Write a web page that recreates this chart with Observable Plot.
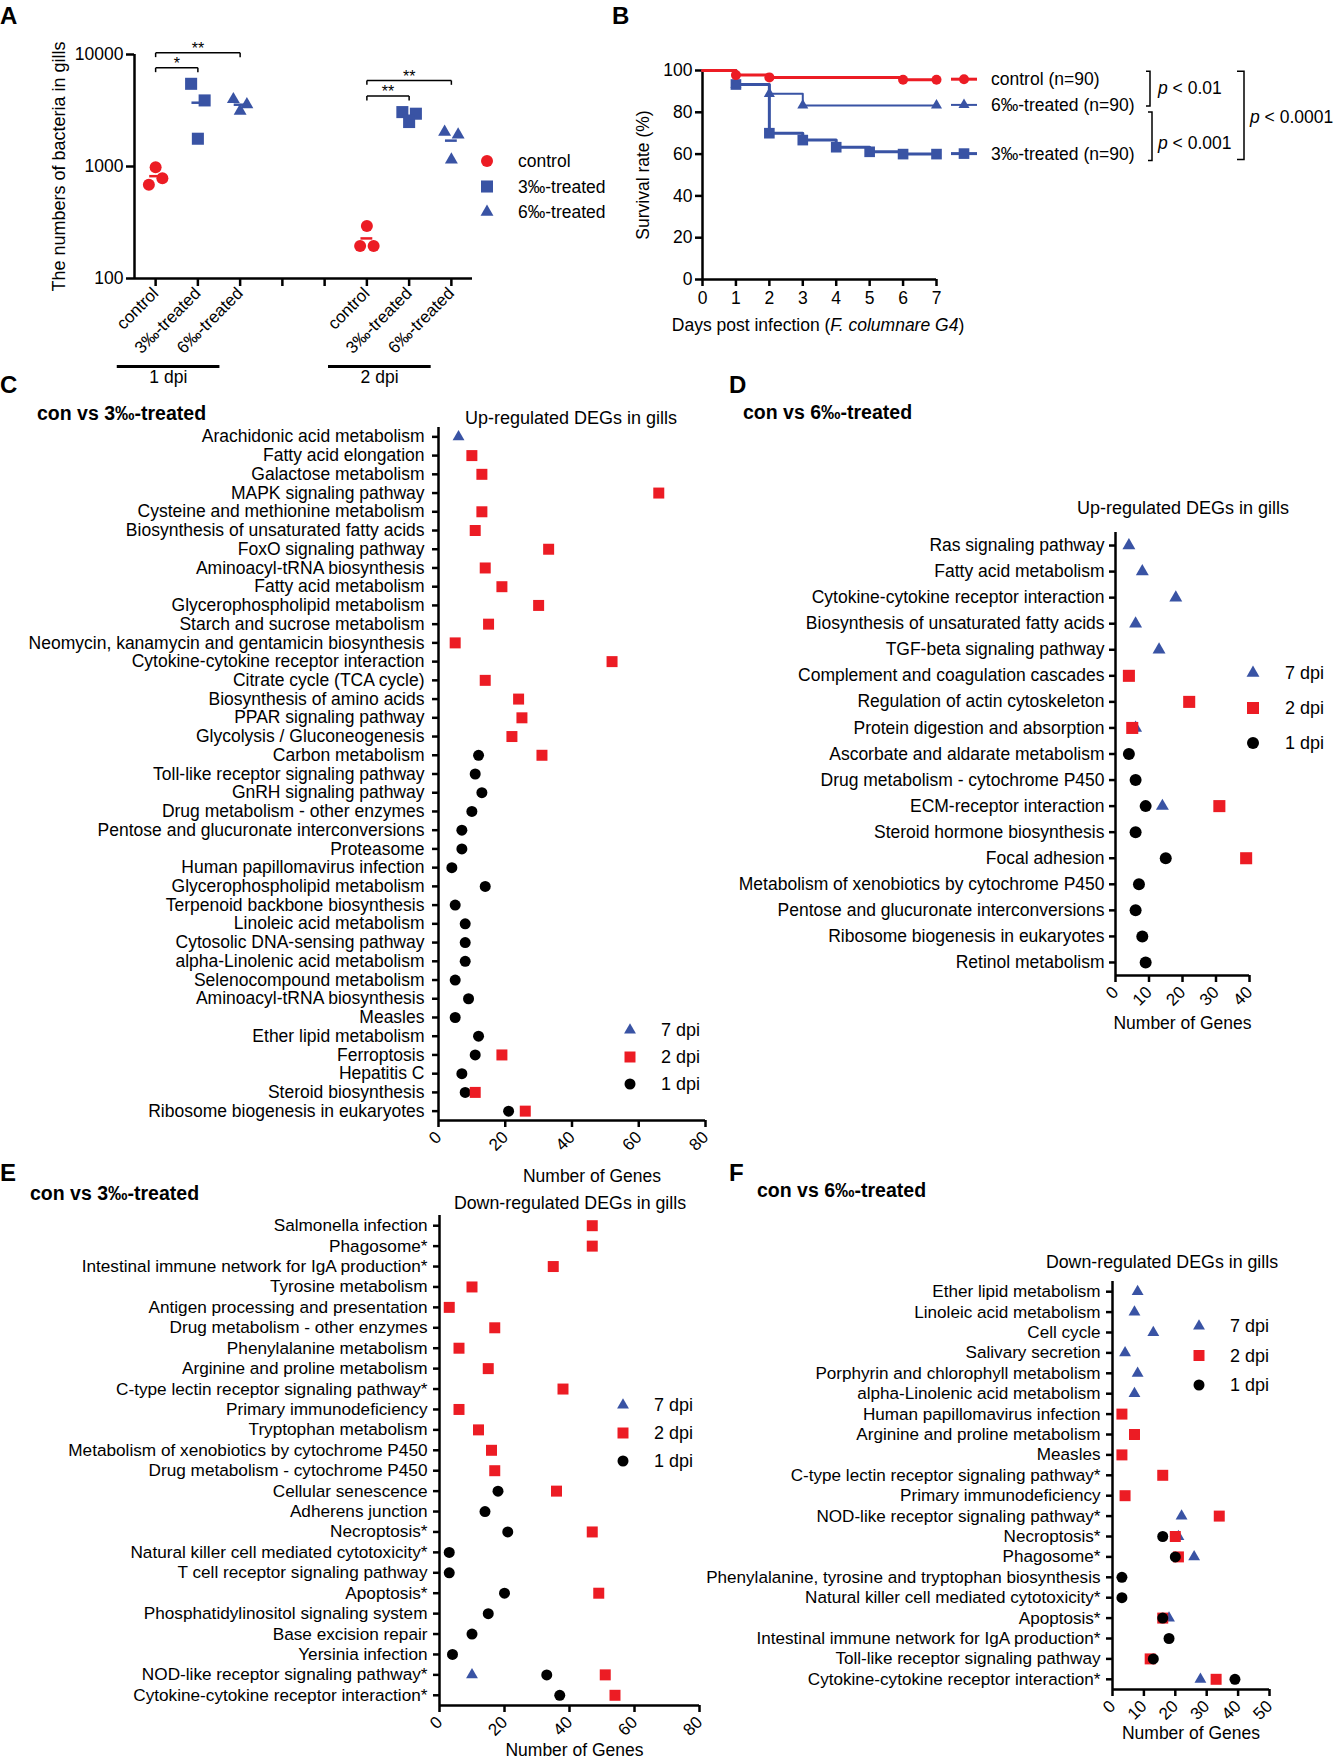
<!DOCTYPE html>
<html><head><meta charset="utf-8">
<script src="https://cdn.jsdelivr.net/npm/d3@7"></script>
<script src="https://cdn.jsdelivr.net/npm/@observablehq/plot@0.6"></script>
<style>
html,body{margin:0;padding:0;background:#fff;}
#page{position:relative;width:1335px;height:1760px;overflow:hidden;background:#fff;font-family:"Liberation Sans",Arial,sans-serif;}
.panel{position:absolute;}
#overlay{position:absolute;left:0;top:0;pointer-events:none;}
</style></head><body><div id="page"></div>
<script>
// ---------------- DATA ----------------
// Panel A: bacteria counts in gills (three fish per group; order = left, centre, right in the scatter)
const A_labels = ["control","3‰-treated","6‰-treated","","","control","3‰-treated","6‰-treated"];
const A_values = [[686,986,787],[5475,1770,3890],[3975,3126,3584],null,null,[195,294,195],[3060,2495,2960],[2030,1150,1925]];
const A_yTicks = [100,1000,10000];
const A_sig = [{from:0,to:1,label:"*"},{from:0,to:2,label:"**"},{from:5,to:6,label:"**"},{from:5,to:7,label:"**"}];
const A_sigLevel = [7600,10350,4250,5860];
const A_days = [{label:"1 dpi",first:0,last:2},{label:"2 dpi",first:5,last:7}];
const A_legend = ["control","3‰-treated","6‰-treated"];

// Panel B: survival
const B_days = [0,1,2,3,4,5,6,7];
const B_control = [100,97.8,96.7,96.7,96.7,96.7,95.6,95.6];
const B_6 = [100,93.3,88.9,83.3,83.3,83.3,83.3,83.3];
const B_3 = [100,93.3,70.0,66.7,63.3,61.1,60.0,60.0];
const B_names = ["control (n=90)","6‰-treated (n=90)","3‰-treated (n=90)"];
const B_yTicks = [0,20,40,60,80,100];
const B_pvals = ["p < 0.01","p < 0.001","p < 0.0001"];

// Panel C: up-regulated, con vs 3‰
const C_paths = ["Arachidonic acid metabolism","Fatty acid elongation","Galactose metabolism","MAPK signaling pathway","Cysteine and methionine metabolism","Biosynthesis of unsaturated fatty acids","FoxO signaling pathway","Aminoacyl-tRNA biosynthesis","Fatty acid metabolism","Glycerophospholipid metabolism","Starch and sucrose metabolism","Neomycin, kanamycin and gentamicin biosynthesis","Cytokine-cytokine receptor interaction","Citrate cycle (TCA cycle)","Biosynthesis of amino acids","PPAR signaling pathway","Glycolysis / Gluconeogenesis","Carbon metabolism","Toll-like receptor signaling pathway","GnRH signaling pathway","Drug metabolism - other enzymes","Pentose and glucuronate interconversions","Proteasome","Human papillomavirus infection","Glycerophospholipid metabolism","Terpenoid backbone biosynthesis","Linoleic acid metabolism","Cytosolic DNA-sensing pathway","alpha-Linolenic acid metabolism","Selenocompound metabolism","Aminoacyl-tRNA biosynthesis","Measles","Ether lipid metabolism","Ferroptosis","Hepatitis C","Steroid biosynthesis","Ribosome biogenesis in eukaryotes"];
const C_d7 = [6,null,null,null,null,null,null,null,null,null,null,null,null,null,null,null,null,null,null,null,null,null,null,null,null,null,null,null,null,null,null,null,null,null,null,null,null];
const C_d2 = [null,10,13,66,13,11,33,14,19,30,15,5,52,14,24,25,22,31,null,null,null,null,null,null,null,null,null,null,null,null,null,null,null,19,null,11,26];
const C_d1 = [null,null,null,null,null,null,null,null,null,null,null,null,null,null,null,null,null,12,11,13,10,7,7,4,14,5,8,8,8,5,9,5,12,11,7,8,21];

// Panel D: up-regulated, con vs 6‰
const D_paths = ["Ras signaling pathway","Fatty acid metabolism","Cytokine-cytokine receptor interaction","Biosynthesis of unsaturated fatty acids","TGF-beta signaling pathway","Complement and coagulation cascades","Regulation of actin cytoskeleton","Protein digestion and absorption","Ascorbate and aldarate metabolism","Drug metabolism - cytochrome P450","ECM-receptor interaction","Steroid hormone biosynthesis","Focal adhesion","Metabolism of xenobiotics by cytochrome P450","Pentose and glucuronate interconversions","Ribosome biogenesis in eukaryotes","Retinol metabolism"];
const D_d7 = [4,8,18,6,13,null,null,6,null,null,14,null,null,null,null,null,null];
const D_d2 = [null,null,null,null,null,4,22,5,null,null,31,null,39,null,null,null,null];
const D_d1 = [null,null,null,null,null,null,null,null,4,6,9,6,15,7,6,8,9];

// Panel E: down-regulated, con vs 3‰
const E_paths = ["Salmonella infection","Phagosome*","Intestinal immune network for IgA production*","Tyrosine metabolism","Antigen processing and presentation","Drug metabolism - other enzymes","Phenylalanine metabolism","Arginine and proline metabolism","C-type lectin receptor signaling pathway*","Primary immunodeficiency","Tryptophan metabolism","Metabolism of xenobiotics by cytochrome P450","Drug metabolism - cytochrome P450","Cellular senescence","Adherens junction","Necroptosis*","Natural killer cell mediated cytotoxicity*","T cell receptor signaling pathway","Apoptosis*","Phosphatidylinositol signaling system","Base excision repair","Yersinia infection","NOD-like receptor signaling pathway*","Cytokine-cytokine receptor interaction*"];
const E_d7 = [null,null,null,null,null,null,null,null,null,null,null,null,null,null,null,null,null,null,null,null,null,null,10,null];
const E_d2 = [47,47,35,10,3,17,6,15,38,6,12,16,17,36,null,47,null,null,49,null,null,null,51,54];
const E_d1 = [null,null,null,null,null,null,null,null,null,null,null,null,null,18,14,21,3,3,20,15,10,4,33,37];

// Panel F: down-regulated, con vs 6‰
const F_paths = ["Ether lipid metabolism","Linoleic acid metabolism","Cell cycle","Salivary secretion","Porphyrin and chlorophyll metabolism","alpha-Linolenic acid metabolism","Human papillomavirus infection","Arginine and proline metabolism","Measles","C-type lectin receptor signaling pathway*","Primary immunodeficiency","NOD-like receptor signaling pathway*","Necroptosis*","Phagosome*","Phenylalanine, tyrosine and tryptophan biosynthesis","Natural killer cell mediated cytotoxicity*","Apoptosis*","Intestinal immune network for IgA production*","Toll-like receptor signaling pathway","Cytokine-cytokine receptor interaction*"];
const F_d7 = [8,7,13,4,8,7,null,null,null,null,null,22,21,26,null,null,18,null,null,28];
const F_d2 = [null,null,null,null,null,null,3,7,3,16,4,34,20,21,null,null,16,null,12,33];
const F_d1 = [null,null,null,null,null,null,null,null,null,null,null,null,16,20,3,3,16,18,13,39];

const dpiLegend = ["7 dpi","2 dpi","1 dpi"];

// ---------------- STYLE ----------------
const RED = "#EC1C24", BLUE = "#3953A4", BLACK = "#000";
const FONT = '"Liberation Sans", Arial, Helvetica, sans-serif';
const baseStyle = {fontFamily: FONT, fontSize: "17px", color: "#000", background: "transparent", overflow: "visible"};
const page = document.getElementById("page");
function place(el, left, top){ const d = document.createElement("div"); d.className = "panel"; d.style.left = left + "px"; d.style.top = top + "px"; d.appendChild(el); page.appendChild(d); return d; }
const symOf = g => g === "control" ? "circle" : g === "3‰-treated" ? "square" : "triangle";
const colOf = g => g === "control" ? RED : BLUE;

// ---------------- PANEL A ----------------
const A_pts = [];
A_values.forEach((vals, i) => vals && vals.forEach((v, j) => A_pts.push({i, j, v, g: A_labels[i]})));
const A_means = A_values.map((vals, i) => vals ? {i, m: d3.mean(vals), g: A_labels[i]} : null).filter(Boolean);
const A_rad = {circle: 6, square: 6.8, triangle: 4.8};
const yBelow = px => 100 / Math.pow(10, px / 112);
const plotA = Plot.plot({
  width: 490, height: 400, marginLeft: 134, marginRight: 18, marginTop: 54, marginBottom: 122,
  style: baseStyle,
  x: {type: "linear", domain: [-0.5, 7.5]},
  y: {type: "log", domain: [100, 10000]},
  marks: [
    Plot.axisY({ticks: A_yTicks, tickFormat: d => String(d), tickSize: 8, tickPadding: 3, strokeWidth: 2.5, fontSize: 17.5, label: null}),
    Plot.axisX({ticks: d3.range(A_labels.length), tickFormat: i => A_labels[i], tickSize: 8, tickPadding: 4, tickRotate: -45, strokeWidth: 2.5, fontSize: 17, label: null}),
    Plot.ruleX([-0.5], {strokeWidth: 2.5}),
    Plot.ruleY([100], {strokeWidth: 2.5}),
    ...["control","3‰-treated","6‰-treated"].map(g => Plot.dot(A_pts.filter(d => d.g === g), {
      x: d => d.i + (d.j - 1) * 0.16, y: "v", symbol: symOf(g), r: A_rad[symOf(g)], fill: colOf(g)})),
    Plot.ruleY(A_means, {y: "m", x1: d => d.i - 0.14, x2: d => d.i + 0.14, stroke: d => colOf(d.g), strokeWidth: 2.5}),
    Plot.link(A_sig, {x1: "from", x2: "to", y1: (d, k) => A_sigLevel[k], y2: (d, k) => A_sigLevel[k], strokeWidth: 1.5, stroke: BLACK}),
    Plot.link(A_sig, {x1: "from", x2: "from", y1: (d, k) => A_sigLevel[k], y2: (d, k) => A_sigLevel[k] * 0.915, strokeWidth: 1.5, stroke: BLACK}),
    Plot.link(A_sig, {x1: "to", x2: "to", y1: (d, k) => A_sigLevel[k], y2: (d, k) => A_sigLevel[k] * 0.915, strokeWidth: 1.5, stroke: BLACK}),
    Plot.text(A_sig, {x: d => (d.from + d.to) / 2, y: (d, k) => A_sigLevel[k], text: "label", dy: -4, fontSize: 16}),
    Plot.link(A_days, {x1: d => d.first - 0.92, x2: d => d.last - 0.49, y1: () => yBelow(88), y2: () => yBelow(88), strokeWidth: 3, stroke: BLACK}),
    Plot.text(A_days, {x: d => (d.first + d.last) / 2 - 0.7, frameAnchor: "bottom", dy: 104, text: "label", fontSize: 17.5}),
    Plot.text(["The numbers of bacteria in gills"], {text: d => d, frameAnchor: "left", textAnchor: "middle", dx: -75, rotate: -90, fontSize: 18})
  ]
});
place(plotA, 0, 0);

// ---------------- PANEL B ----------------
const B_series = [
  {name: B_names[0], values: B_control, sym: "circle", color: RED, w: 3, r: 5},
  {name: B_names[1], values: B_6, sym: "triangle", color: BLUE, w: 2, r: 4.1},
  {name: B_names[2], values: B_3, sym: "square", color: BLUE, w: 3, r: 6}
];
const B_line = s => B_days.map((d, k) => ({day: d, s: s.values[k]}));
const B_marks = s => B_days.map((d, k) => ({day: d, s: s.values[k]})).filter((p, k, a) => k > 0 && (s.values[k] !== s.values[k - 1] || k === a.length - 1));
const B_left = 612, B_top = 0;
const plotB = Plot.plot({
  width: 340, height: 345, marginLeft: 90, marginRight: 16, marginTop: 70, marginBottom: 66,
  style: baseStyle,
  x: {domain: [0, 7]},
  y: {domain: [0, 100]},
  marks: [
    Plot.axisY({ticks: B_yTicks, tickFormat: d => String(d), tickSize: 7, tickPadding: 3, strokeWidth: 2.5, fontSize: 17.5, label: null}),
    Plot.axisX({ticks: B_days, tickFormat: d => String(d), tickSize: 7, tickPadding: 5, strokeWidth: 2.5, fontSize: 17.5, label: null}),
    Plot.ruleX([0], {strokeWidth: 2.5}),
    Plot.ruleY([0], {strokeWidth: 2.5}),
    ...[2, 1, 0].map(k => Plot.line(B_line(B_series[k]), {x: "day", y: "s", curve: "step-after", stroke: B_series[k].color, strokeWidth: B_series[k].w})),
    ...[2, 1, 0].map(k => Plot.dot(B_marks(B_series[k]), {x: "day", y: "s", symbol: B_series[k].sym, r: B_series[k].r, fill: B_series[k].color})),
    Plot.text(["Survival rate (%)"], {text: d => d, frameAnchor: "left", textAnchor: "middle", dx: -59, rotate: -90, fontSize: 17.5})
  ]
});
place(plotB, B_left, B_top);

// ---------------- PANELS C-F ----------------
function catPanel(o) {
  const n = o.paths.length;
  const mk = arr => arr.map((v, i) => ({i, v})).filter(d => d.v != null);
  const dots = {
    d7: Plot.dot(mk(o.d7), {x: "v", y: "i", symbol: "triangle", r: o.r.triangle, fill: BLUE}),
    d2: Plot.dot(mk(o.d2), {x: "v", y: "i", symbol: "square", r: o.r.square, fill: RED}),
    d1: Plot.dot(mk(o.d1), {x: "v", y: "i", symbol: "circle", r: o.r.circle, fill: BLACK})
  };
  const p = Plot.plot({
    width: o.width, height: o.height,
    marginLeft: o.frame[0] - o.left, marginRight: o.left + o.width - o.frame[1],
    marginTop: o.frame[2] - o.top, marginBottom: o.top + o.height - o.frame[3],
    style: baseStyle,
    x: {domain: [0, o.xMax]},
    y: {domain: [-0.5, n - 0.5], reverse: true},
    marks: [
      Plot.axisY({ticks: d3.range(n), tickFormat: i => o.paths[i], tickSize: 6, tickPadding: o.tickPadding, strokeWidth: 2.5, fontSize: o.fs, label: null}),
      Plot.axisX({ticks: o.xTicks, tickSize: 7, tickPadding: 7, tickRotate: -45, strokeWidth: 2.5, fontSize: 17, label: null}),
      Plot.ruleX([0], {strokeWidth: 2.5}),
      Plot.ruleY([n - 0.5], {strokeWidth: 2.5}),
      ...o.order.map(k => dots[k]),
      Plot.text(["Number of Genes"], {text: d => d, frameAnchor: "bottom", dy: o.labelDy, dx: o.labelDx, fontSize: 17.5})
    ]
  });
  place(p, o.left, o.top);
}
const rStd = {circle: 5.5, square: 6.2, triangle: 4.4};
catPanel({paths: C_paths, d1: C_d1, d2: C_d2, d7: C_d7, left: 0, top: 400, width: 720, height: 790,
  frame: [438, 705, 427, 1120], xMax: 80, xTicks: [0, 20, 40, 60, 80], tickPadding: 8, fs: 17.5, labelDy: 61, labelDx: 20,
  order: ["d7", "d1", "d2"], r: rStd});
catPanel({paths: D_paths, d1: D_d1, d2: D_d2, d7: D_d7, left: 720, top: 500, width: 615, height: 540,
  frame: [1115, 1249, 532, 975], xMax: 40, xTicks: [0, 10, 20, 30, 40], tickPadding: 5, fs: 17.5, labelDy: 53, labelDx: 0,
  order: ["d7", "d1", "d2"], r: {circle: 6, square: 6.8, triangle: 4.8}});
catPanel({paths: E_paths, d1: E_d1, d2: E_d2, d7: E_d7, left: 0, top: 1200, width: 720, height: 560,
  frame: [439, 699, 1215, 1705], xMax: 80, xTicks: [0, 20, 40, 60, 80], tickPadding: 6, fs: 17.2, labelDy: 50, labelDx: 5,
  order: ["d7", "d1", "d2"], r: rStd});
catPanel({paths: F_paths, d1: F_d1, d2: F_d2, d7: F_d7, left: 690, top: 1270, width: 645, height: 490,
  frame: [1112, 1269, 1281, 1689], xMax: 50, xTicks: [0, 10, 20, 30, 40, 50], tickPadding: 6, fs: 17.1, labelDy: 49, labelDx: 0,
  order: ["d7", "d2", "d1"], r: rStd});

// ---------------- OVERLAY (letters, titles, legends, brackets) ----------------
const ov = d3.select("#page").append("svg").attr("id", "overlay").attr("width", 1335).attr("height", 1760).style("font-family", FONT);
function T(x, y, txt, o = {}) {
  const t = ov.append("text").attr("x", x).attr("y", y).attr("font-size", o.size || 17.5)
    .attr("font-weight", o.weight || "normal").attr("text-anchor", o.anchor || "start").attr("fill", "#000");
  if (Array.isArray(txt)) txt.forEach(p => t.append("tspan").attr("font-style", p.i ? "italic" : "normal").text(p.t));
  else t.text(txt);
  return t;
}
const symType = {circle: d3.symbolCircle, square: d3.symbolSquare, triangle: d3.symbolTriangle};
function S(x, y, sym, r, color) {
  ov.append("path").attr("d", d3.symbol(symType[sym], Math.PI * r * r)()).attr("transform", `translate(${x},${y})`).attr("fill", color);
}
// panel letters
[["A", 0, 24], ["B", 612, 24], ["C", 0, 393], ["D", 729, 393], ["E", 0, 1181], ["F", 729, 1181]].forEach(([l, x, y]) => T(x, y, l, {size: 24, weight: "bold"}));
// titles
T(37, 420, "con vs 3‰-treated", {size: 19.5, weight: "bold"});
T(743, 419, "con vs 6‰-treated", {size: 19.5, weight: "bold"});
T(30, 1200, "con vs 3‰-treated", {size: 19.5, weight: "bold"});
T(757, 1197, "con vs 6‰-treated", {size: 19.5, weight: "bold"});
T(571, 424, "Up-regulated DEGs in gills", {size: 18, anchor: "middle"});
T(1183, 514, "Up-regulated DEGs in gills", {size: 18, anchor: "middle"});
T(570, 1209, "Down-regulated DEGs in gills", {size: 17.8, anchor: "middle"});
T(1162, 1268, "Down-regulated DEGs in gills", {size: 17.8, anchor: "middle"});
// legend A
A_legend.forEach((g, k) => { const y = 161 + k * 25.5; S(487, y, symOf(g), A_rad[symOf(g)], colOf(g)); T(518, y + 6, g, {size: 17.5}); });
// dpi legends C-F
const dpiSym = [["triangle", BLUE], ["square", RED], ["circle", BLACK]];
function dpiLeg(x, y0, step, tx, r) { dpiLegend.forEach((l, k) => { const y = y0 + k * step; S(x, y, dpiSym[k][0], r[dpiSym[k][0]], dpiSym[k][1]); T(tx, y + 6, l, {size: 18}); }); }
dpiLeg(630, 1030, 27, 661, rStd);
dpiLeg(1253, 673, 35, 1285, {circle: 6, square: 6.8, triangle: 4.8});
dpiLeg(623, 1405, 28, 654, rStd);
dpiLeg(1199, 1326, 29.5, 1230, rStd);
// legend B (aligned with end of each curve)
const ySc = plotB.scale("y");
const yEnd = B_series.map(s => B_top + ySc.apply(s.values[s.values.length - 1]));
B_series.forEach((s, k) => {
  const y = yEnd[k];
  ov.append("line").attr("x1", 951).attr("x2", 977).attr("y1", y).attr("y2", y).attr("stroke", s.color).attr("stroke-width", s.w);
  S(964, y, s.sym, s.r, s.color);
  T(991, y + 6, s.name, {size: 17.5});
});
function bracket(x, y1, y2, w) {
  ov.append("path").attr("d", `M${x - w},${y1}H${x}V${y2}H${x - w}`).attr("fill", "none").attr("stroke", "#000").attr("stroke-width", 1.5);
}
const br = [[1150, yEnd[0] - 8, yEnd[1] + 1], [1152, yEnd[1] + 7, yEnd[2] + 7], [1244, yEnd[0] - 8, yEnd[2] + 6]];
bracket(br[0][0], br[0][1], br[0][2], 4);
bracket(br[1][0], br[1][1], br[1][2], 4);
bracket(br[2][0], br[2][1], br[2][2], 7);
const pv = (s) => [{t: "p", i: true}, {t: s.slice(1)}];
T(1158, (br[0][1] + br[0][2]) / 2 + 5, pv(B_pvals[0]), {size: 17.5});
T(1158, (br[1][1] + br[1][2]) / 2 + 13, pv(B_pvals[1]), {size: 17.5});
T(1250, (br[2][1] + br[2][2]) / 2 + 8, pv(B_pvals[2]), {size: 17.5});
T(818, 331, [{t: "Days post infection ("}, {t: "F. columnare G4", i: true}, {t: ")"}], {size: 17.5, anchor: "middle"});
</script></body></html>
